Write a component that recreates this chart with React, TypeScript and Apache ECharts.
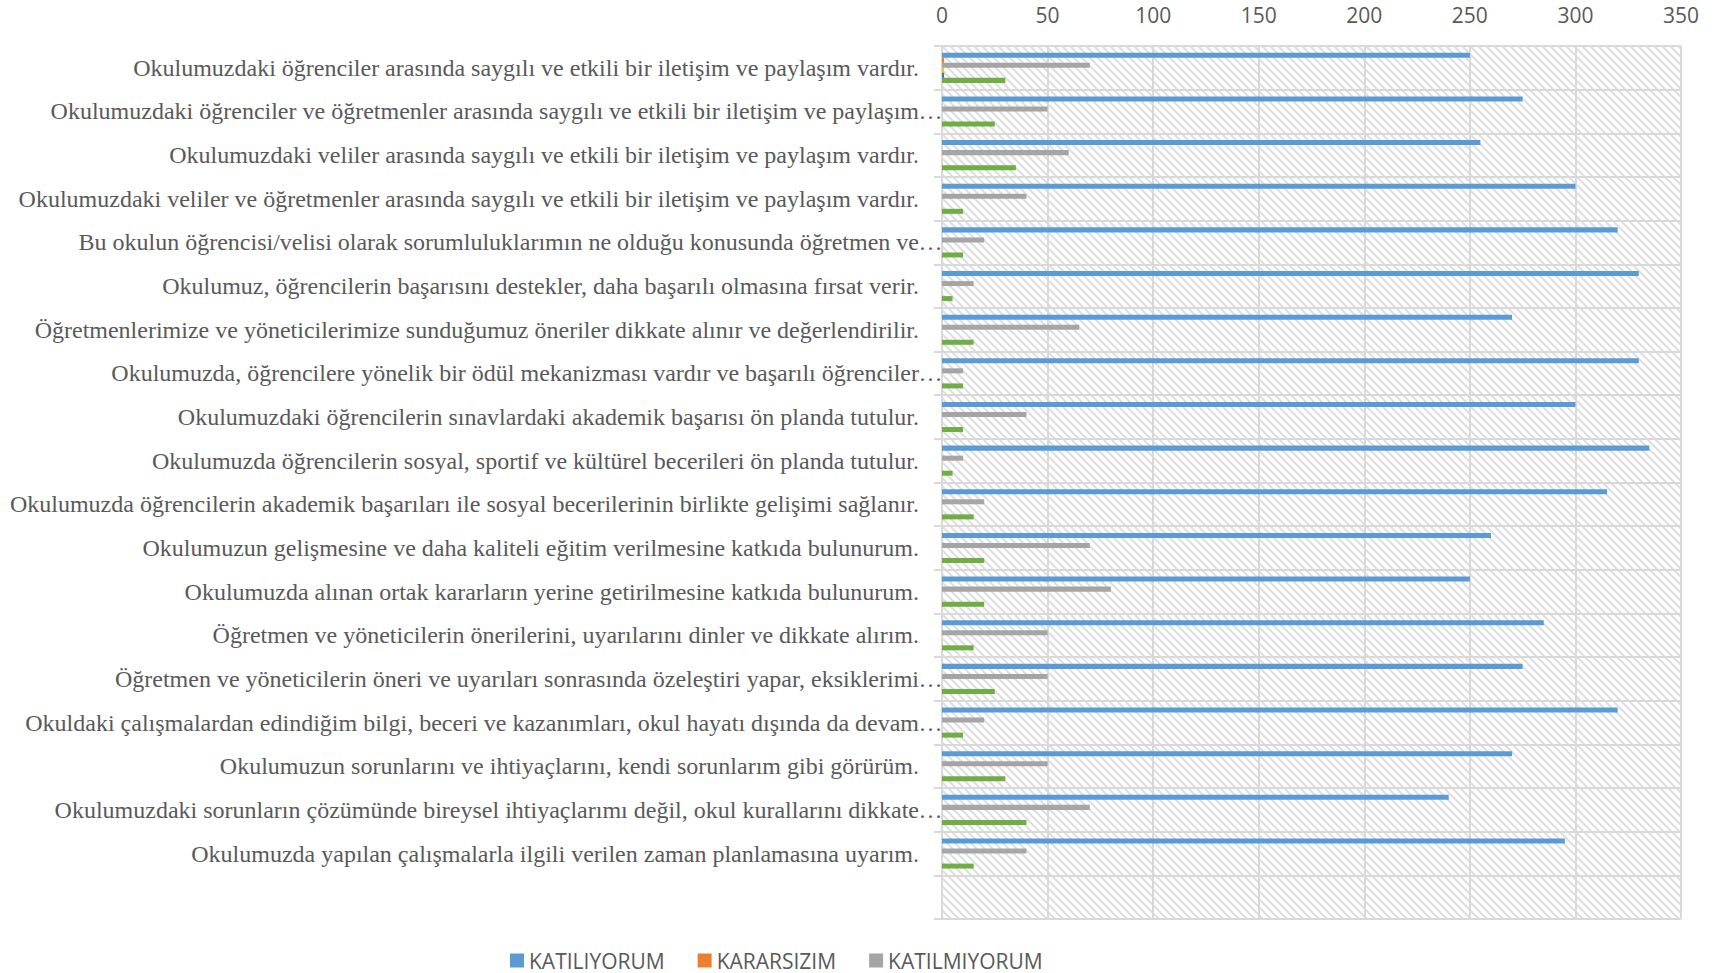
import React, { useEffect, useRef } from "react";
import * as echarts from "echarts";

const categories: string[] = [
  "Okulumuzdaki öğrenciler arasında saygılı ve etkili bir iletişim ve paylaşım vardır.",
  "Okulumuzdaki öğrenciler ve öğretmenler arasında saygılı ve etkili bir iletişim ve paylaşım…",
  "Okulumuzdaki veliler arasında saygılı ve etkili bir iletişim ve paylaşım vardır.",
  "Okulumuzdaki veliler ve öğretmenler arasında saygılı ve etkili bir iletişim ve paylaşım vardır.",
  "Bu okulun öğrencisi/velisi olarak sorumluluklarımın ne olduğu konusunda öğretmen ve…",
  "Okulumuz, öğrencilerin başarısını destekler, daha başarılı olmasına fırsat verir.",
  "Öğretmenlerimize ve yöneticilerimize sunduğumuz öneriler dikkate alınır ve değerlendirilir.",
  "Okulumuzda, öğrencilere yönelik bir ödül mekanizması vardır ve başarılı öğrenciler…",
  "Okulumuzdaki öğrencilerin sınavlardaki akademik başarısı ön planda tutulur.",
  "Okulumuzda öğrencilerin sosyal, sportif ve kültürel becerileri ön planda tutulur.",
  "Okulumuzda öğrencilerin akademik başarıları ile sosyal becerilerinin birlikte gelişimi sağlanır.",
  "Okulumuzun gelişmesine ve daha kaliteli eğitim verilmesine katkıda bulunurum.",
  "Okulumuzda alınan ortak kararların yerine getirilmesine katkıda bulunurum.",
  "Öğretmen ve yöneticilerin önerilerini, uyarılarını dinler ve dikkate alırım.",
  "Öğretmen ve yöneticilerin öneri ve uyarıları sonrasında özeleştiri yapar, eksiklerimi…",
  "Okuldaki çalışmalardan edindiğim bilgi, beceri ve kazanımları, okul hayatı dışında da devam…",
  "Okulumuzun sorunlarını ve ihtiyaçlarını, kendi sorunlarım gibi görürüm.",
  "Okulumuzdaki sorunların çözümünde bireysel ihtiyaçlarımı değil, okul kurallarını dikkate…",
  "Okulumuzda yapılan çalışmalarla ilgili verilen zaman planlamasına uyarım.",
  "",
];

const katiliyorum = [250, 275, 255, 300, 320, 330, 270, 330, 300, 335, 315, 260, 250, 285, 275, 320, 270, 240, 295, null];
const kararsizim = [1, 0, 0, 0, 0, 0, 0, 0, 0, 0, 0, 0, 0, 0, 0, 0, 0, 0, 0, null];
const katilmiyorum = [70, 50, 60, 40, 20, 15, 65, 10, 40, 10, 20, 70, 80, 50, 50, 20, 50, 70, 40, null];
const seri4 = [1, 0, 0, 0, 0, 0, 0, 0, 0, 0, 0, 0, 0, 0, 0, 0, 0, 0, 0, null];
const seri5 = [1, 0, 0, 0, 0, 0, 0, 0, 0, 0, 0, 0, 0, 0, 0, 0, 0, 0, 0, null];
const seri6 = [30, 25, 35, 10, 10, 5, 15, 10, 10, 5, 15, 20, 20, 15, 25, 10, 30, 40, 15, null];

const xTicks = { min: 0, max: 350, interval: 50 };

const legendNames = ["KATILIYORUM", "KARARSIZIM", "KATILMIYORUM"];

export default function App() {
  const ref = useRef<HTMLDivElement>(null);

  useEffect(() => {
    if (!ref.current) return;
    const chart = echarts.init(ref.current, undefined, { renderer: "svg" });

    const c = document.createElement("canvas");
    c.width = 8;
    c.height = 8;
    const ctx = c.getContext("2d");
    if (ctx) {
      ctx.fillStyle = "#ffffff";
      ctx.fillRect(0, 0, 8, 8);
      ctx.strokeStyle = "#dedede";
      ctx.lineWidth = 2;
      for (const x0 of [-8, 0, 8]) {
        ctx.beginPath();
        ctx.moveTo(x0 - 1, -1);
        ctx.lineTo(x0 + 9, 9);
        ctx.stroke();
      }
    }
    const hatch: any = { image: c, repeat: "repeat", imageWidth: 8, imageHeight: 8 };

    const grey = "#d9d9d9";
    const labelFont = "'Liberation Serif', 'Times New Roman', serif";
    const sansFont = "'Open Sans', 'Noto Sans', sans-serif";

    const mk = (name: string, data: any[], color: string) => ({
      name,
      type: "bar",
      data,
      barGap: "0%",
      barCategoryGap: "31%",
      itemStyle: { color },
      emphasis: { disabled: true },
    });

    chart.setOption({
      animation: false,
      grid: {
        left: 942,
        right: 45,
        top: 46,
        bottom: 54,
        show: true,
        backgroundColor: hatch,
        borderWidth: 0,
      },
      legend: {
        data: legendNames,
        left: 510,
        top: 950,
        padding: 0,
        itemWidth: 14,
        itemHeight: 14,
        itemGap: 33,
        icon: "rect",
        textStyle: { fontFamily: sansFont, fontSize: 21, color: "#595959" },
      },
      xAxis: {
        type: "value",
        position: "top",
        min: xTicks.min,
        max: xTicks.max,
        interval: xTicks.interval,
        axisLine: { show: false },
        axisTick: { show: false },
        axisLabel: { margin: 21, fontFamily: sansFont, fontSize: 21, color: "#595959" },
        splitLine: { show: true, lineStyle: { color: grey, width: 2 } },
      },
      yAxis: {
        type: "category",
        inverse: true,
        data: categories,
        axisLine: { show: true, lineStyle: { color: grey, width: 2 } },
        axisTick: { show: true, length: 8, lineStyle: { color: grey, width: 2 } },
        splitLine: { show: true, lineStyle: { color: grey, width: 2 } },
        axisLabel: {
          interval: 0,
          margin: 0,
          fontFamily: labelFont,
          fontSize: 24,
          color: "#595959",
          formatter: (v: string) => {
            if (!v) return "";
            if (v.endsWith("…")) {
              return "{t|" + v.slice(0, -1) + "}{e|…}";
            }
            return "{t|" + v + "}{g|}";
          },
          rich: {
            t: { fontFamily: labelFont, fontSize: 24, color: "#595959" },
            g: { width: 23, fontFamily: labelFont, fontSize: 24 },
            e: { width: 23, align: "left", fontFamily: labelFont, fontSize: 24, color: "#595959" },
          },
        },
      },
      series: [
        mk("KATILIYORUM", katiliyorum, "#5B9BD5"),
        mk("KARARSIZIM", kararsizim, "#ED7D31"),
        mk("KATILMIYORUM", katilmiyorum, "#A5A5A5"),
        mk("Seri 4", seri4, "#FFC000"),
        mk("Seri 5", seri5, "#4472C4"),
        mk("Seri 6", seri6, "#70AD47"),
      ],
    });

    return () => chart.dispose();
  }, []);

  return (
    <div
      ref={ref}
      style={{ position: "fixed", left: 0, top: 0, width: 1726, height: 973, background: "#ffffff" }}
    />
  );
}
